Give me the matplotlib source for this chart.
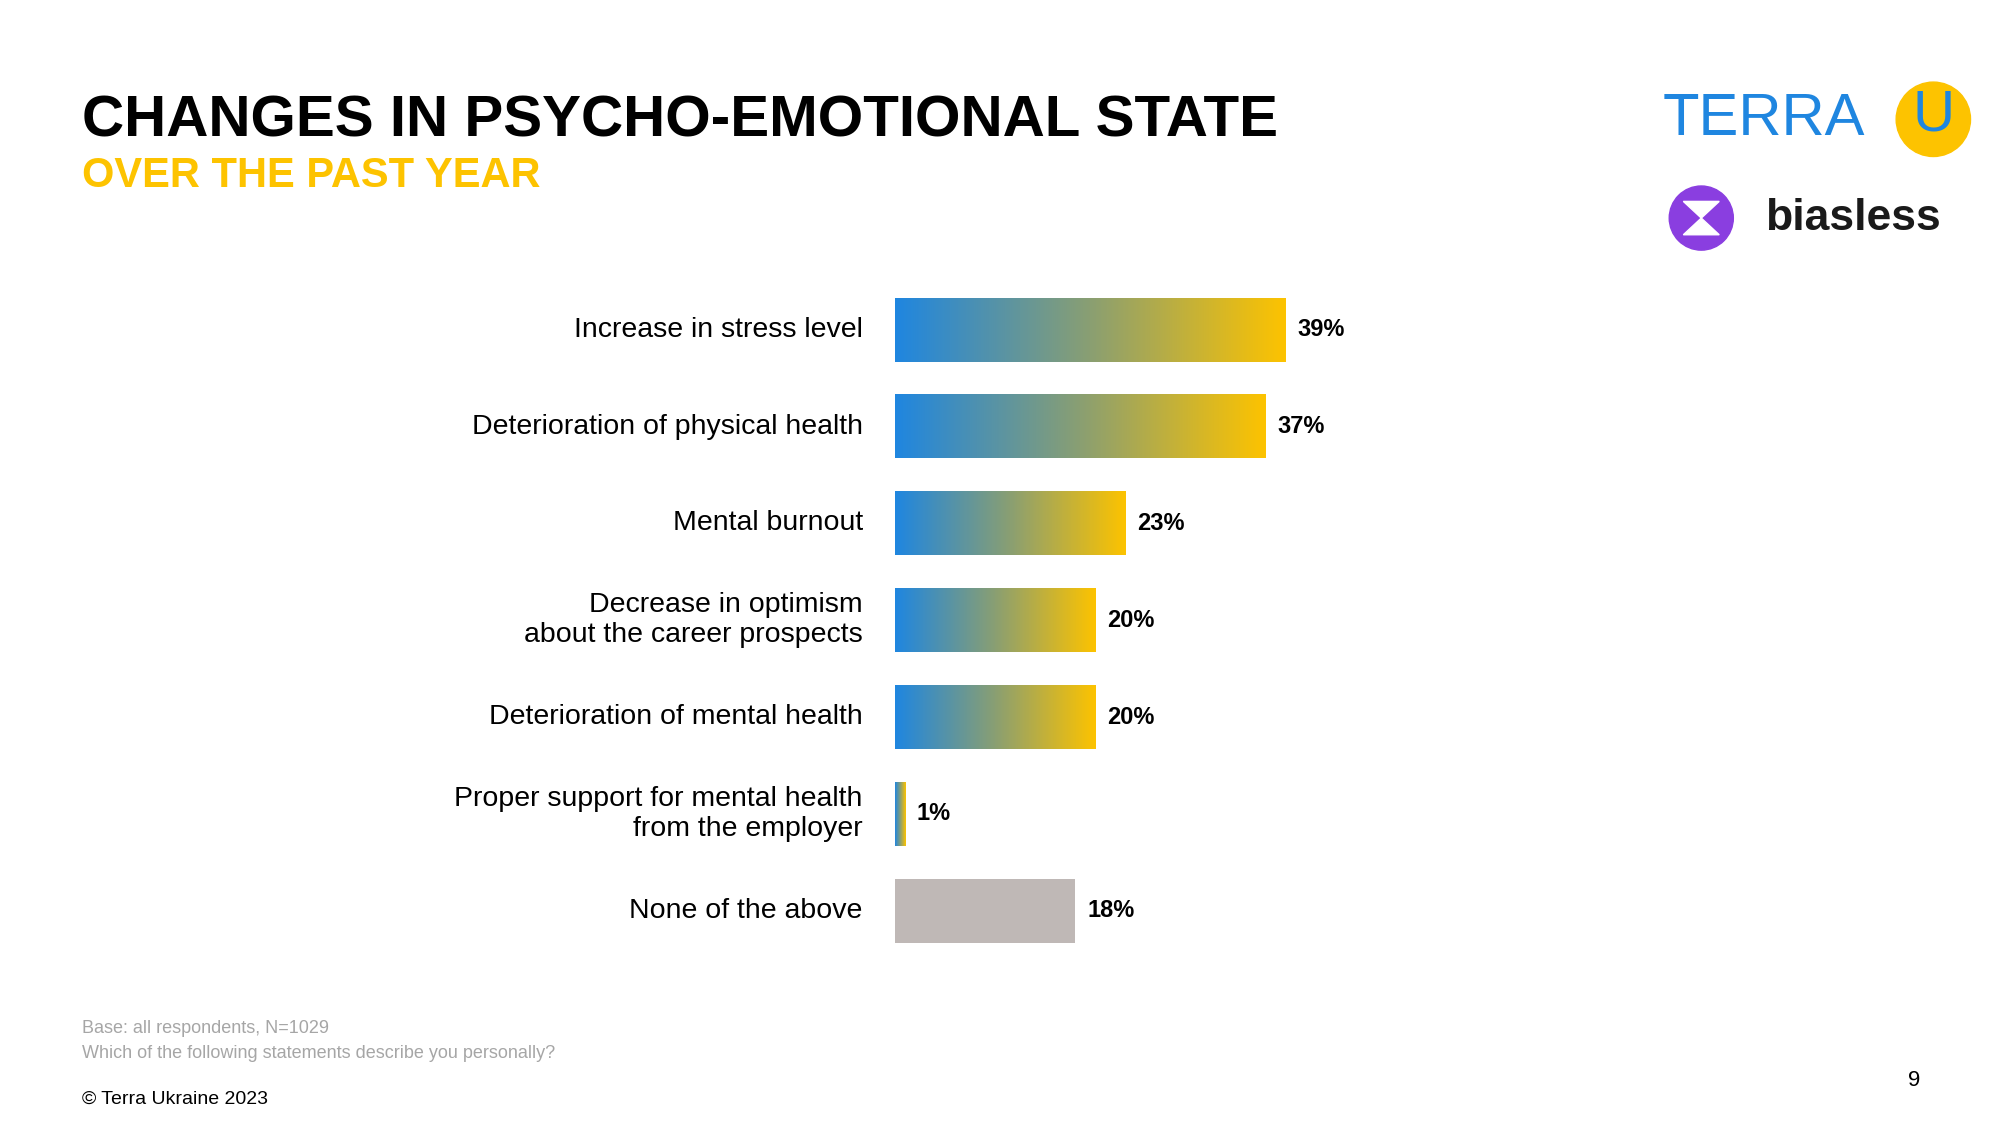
import numpy as np
import matplotlib.pyplot as plt
from matplotlib.colors import LinearSegmentedColormap
from matplotlib.patches import Circle, Rectangle, Polygon

plt.rcParams['font.family'] = ['Liberation Sans', 'DejaVu Sans']

labels = ['Increase in stress level', 'Deterioration of physical health', 'Mental burnout',
          'Decrease in optimism\nabout the career prospects', 'Deterioration of mental health',
          'Proper support for mental health\nfrom the employer', 'None of the above']
values = [39, 37, 23, 20, 20, 1, 18]
gray_flags = [False, False, False, False, False, False, True]

W, H = 1560, 877  # reference layout units
fig = plt.figure(figsize=(20, 11.25), dpi=100)
ax = fig.add_axes([698 / W, 1 - 747.75 / H, 782 / W, 528.5 / H])
ax.axis('off')

cmap = LinearSegmentedColormap.from_list('g', ['#1f86e0', '#8a9f72', '#fdc300'])
grad = np.linspace(0, 1, 256).reshape(1, -1)
bh = 0.66
for i, (v, g) in enumerate(zip(values, gray_flags)):
    if g:
        ax.add_patch(Rectangle((0, i - bh / 2), v, bh, color='#bfb8b6', lw=0))
    else:
        ax.imshow(grad, cmap=cmap, aspect='auto', extent=(0, v, i + bh / 2, i - bh / 2),
                  interpolation='bilinear', zorder=2)
    ax.text(v + 1.2, i, f'{v}%', va='center', ha='left', fontsize=17, fontweight='bold')
    ax.text(-3.2, i, labels[i], va='center', ha='right', fontsize=20.5, linespacing=1.2)
ax.set_xlim(0, 100)
ax.set_ylim(6.5, -0.5)

fig.text(64 / W, 1 - 95 / H, 'CHANGES IN PSYCHO-EMOTIONAL STATE', fontsize=42, fontweight='bold',
         va='center', ha='left')
fig.text(64 / W, 1 - 137 / H, 'OVER THE PAST YEAR', fontsize=30, fontweight='bold',
         color='#fdc300', va='center', ha='left')

fig.text(64 / W, 1 - 802 / H, 'Base: all respondents, N=1029', fontsize=13, color='#a6a6a6', va='center')
fig.text(64 / W, 1 - 821 / H, 'Which of the following statements describe you personally?', fontsize=13,
         color='#a6a6a6', va='center')
fig.text(64 / W, 1 - 857 / H, '© Terra Ukraine 2023', fontsize=14, va='center')
fig.text(1493 / W, 1 - 842 / H, '9', fontsize=16, va='center', ha='center')

# logos
lx = fig.add_axes([0, 0, 1, 1], zorder=-1)
lx.set_xlim(0, W)
lx.set_ylim(H, 0)
lx.axis('off')
lx.text(1297, 93, 'TERRA', fontsize=43, color='#1f86e0', va='center', ha='left')
lx.add_patch(Rectangle((1470, 70), 22, 40, color='white'))
lx.add_patch(Polygon([(1492, 64), (1523, 64), (1538, 93), (1523, 122), (1492, 122)],
                     closed=True, color='none'))
lx.add_patch(Circle((1508, 93), 29, color='#fdc300', transform=lx.transData))
lx.text(1508, 90, 'U', fontsize=42, color='#1f86e0', va='center', ha='center')
lx.add_patch(Circle((1327, 170), 25, color='#8a3ee0'))
lx.add_patch(Polygon([(1313, 157), (1341, 157), (1327, 170)], color='white'))
lx.add_patch(Polygon([(1313, 183), (1341, 183), (1327, 170)], color='white'))
lx.text(1377, 170, 'biasless', fontsize=32, fontweight='bold', color='#1a1a1a', va='center', ha='left')

fig.savefig('out.png', dpi=100)
